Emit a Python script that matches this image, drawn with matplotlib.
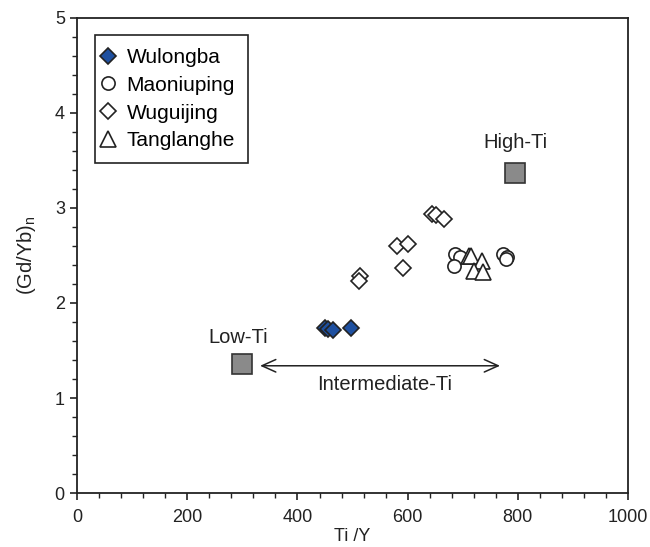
import matplotlib
matplotlib.use("Agg")
import matplotlib.pyplot as plt

plt.rcParams['font.family'] = ['Liberation Sans', 'DejaVu Sans']
plt.rcParams['mathtext.fontset'] = 'custom'
plt.rcParams['mathtext.rm'] = 'Liberation Sans'

# Data (Ti/Y, (Gd/Yb)n)
wulongba_x = [450, 456, 465, 498]
wulongba_y = [1.74, 1.73, 1.72, 1.74]

maoniuping_x = [687, 696, 684, 774, 781, 779]
maoniuping_y = [2.51, 2.48, 2.39, 2.51, 2.48, 2.46]

wuguijing_x = [513, 511, 581, 601, 592, 644, 652, 666]
wuguijing_y = [2.28, 2.23, 2.60, 2.62, 2.37, 2.93, 2.92, 2.88]

tanglanghe_x = [712, 715, 735, 721, 737]
tanglanghe_y = [2.49, 2.49, 2.44, 2.34, 2.33]

ref_labels = ["Low-Ti", "High-Ti"]
ref_x = [299, 796]
ref_y = [1.36, 3.37]

arrow_x = [332, 768]
arrow_y = 1.34

fig = plt.figure(figsize=(6.5, 5.47), dpi=100)
ax = fig.add_axes([0.119, 0.0982, 0.8467, 0.8698])

ax.plot(ref_x, ref_y, linestyle='none', marker='s', ms=15, mfc='#8a8a8a',
        mec='#333333', mew=1.2, zorder=3)

ax.plot(wuguijing_x, wuguijing_y, linestyle='none', marker='D', ms=8, mfc='white',
        mec='#222222', mew=1.2, label='Wuguijing', zorder=4)
ax.plot(maoniuping_x, maoniuping_y, linestyle='none', marker='o', ms=9.5, mfc='white',
        mec='#222222', mew=1.2, label='Maoniuping', zorder=4)
ax.plot(tanglanghe_x, tanglanghe_y, linestyle='none', marker='^', ms=11, mfc='white',
        mec='#222222', mew=1.2, label='Tanglanghe', zorder=5)
ax.plot(wulongba_x, wulongba_y, linestyle='none', marker='D', ms=8, mfc='#1e50a0',
        mec='#222222', mew=1.2, label='Wulongba', zorder=4)

ax.annotate('', xy=(arrow_x[0], arrow_y), xytext=(arrow_x[1], arrow_y),
            arrowprops=dict(arrowstyle='<->,head_length=1.0,head_width=0.45',
                            color='#222222', lw=1.1, shrinkA=0, shrinkB=0))

ax.text(292, 1.64, 'Low-Ti', fontsize=14.5, ha='center', va='center', color='#222222')
ax.text(796, 3.69, 'High-Ti', fontsize=14.5, ha='center', va='center', color='#222222')
ax.text(559, 1.14, 'Intermediate-Ti', fontsize=14.5, ha='center', va='center', color='#222222')

ax.set_xlim(0, 1000)
ax.set_ylim(0, 5)
ax.set_xticks([0, 200, 400, 600, 800, 1000])
ax.set_yticks([0, 1, 2, 3, 4, 5])
ax.set_xticks(range(0, 1001, 40), minor=True)
ax.set_yticks([i * 0.2 for i in range(26)], minor=True)
ax.tick_params(axis='both', which='major', direction='out', length=5, width=1.2,
               labelsize=13, colors='#222222', pad=4)
ax.tick_params(axis='x', which='major', pad=6)
ax.tick_params(axis='both', which='minor', direction='out', length=3.5, width=1.0,
               colors='#222222')
for s in ax.spines.values():
    s.set_linewidth(1.3)
    s.set_color('#222222')

ax.set_xlabel('Ti /Y', fontsize=13, color='#222222', labelpad=2)
ax.set_ylabel('(Gd/Yb)$_\\mathrm{n}$', fontsize=14.5, color='#222222', labelpad=12)

handles, labels = ax.get_legend_handles_labels()
order = ['Wulongba', 'Maoniuping', 'Wuguijing', 'Tanglanghe']
hmap = dict(zip(labels, handles))
leg = ax.legend([hmap[k] for k in order], order, loc='upper left',
                bbox_to_anchor=(0.032, 0.963), borderaxespad=0, fontsize=15,
                frameon=True, fancybox=False, edgecolor='#222222', framealpha=1,
                handlelength=0.05, handletextpad=0.84, borderpad=0.62, labelspacing=0.42,
                numpoints=1)
leg.get_frame().set_linewidth(1.2)

fig.savefig('out.png', dpi=100)
